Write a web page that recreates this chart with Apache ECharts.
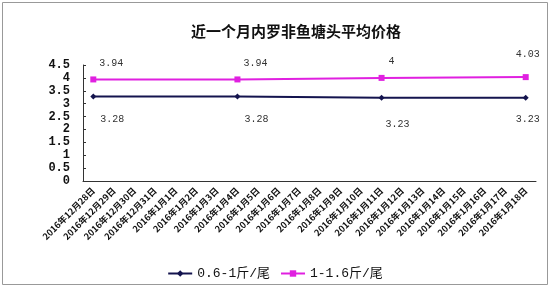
<!DOCTYPE html>
<html><head><meta charset="utf-8">
<script src="https://cdn.jsdelivr.net/npm/echarts@6/dist/echarts.min.js"></script>
<style>html,body{margin:0;padding:0;background:#fff}#c{width:550px;height:288px}</style>
</head><body><div id="c"></div>
<script>
const categories = ['2016年12月28日','2016年12月29日','2016年12月30日','2016年12月31日',
'2016年1月1日','2016年1月2日','2016年1月3日','2016年1月4日','2016年1月5日','2016年1月6日',
'2016年1月7日','2016年1月8日','2016年1月9日','2016年1月10日','2016年1月11日','2016年1月12日',
'2016年1月13日','2016年1月14日','2016年1月15日','2016年1月16日','2016年1月17日','2016年1月18日'];
const seriesSmall = [3.28,null,null,null,null,null,null,3.28,null,null,null,null,null,null,3.23,null,null,null,null,null,null,3.23];
const seriesLarge = [3.94,null,null,null,null,null,null,3.94,null,null,null,null,null,null,4,null,null,null,null,null,null,4.03];
const seriesNames = ['0.6-1斤/尾','1-1.6斤/尾'];
const yTicks = {min:0, max:4.5, interval:0.5};

const smallOffsets = {0:[19,10],7:[19,10],14:[16,14],21:[2,9]};
const largeOffsets = {0:[18,-3],7:[18,-3],14:[10,-4],21:[2,-10]};
function build(arr, offs){
  return arr.map((v,i)=> v==null ? null : {value:v, label:{offset:offs[i]}});
}
const chart = echarts.init(document.getElementById('c'));
chart.setOption({
  animation:false,
  backgroundColor:'#fff',
  title:{text:'近一个月内罗非鱼塘头平均价格', left:291, top:19, textAlign:'center',
    textStyle:{fontFamily:'Noto Sans CJK SC', fontWeight:'bold', fontSize:15, color:'#111'}},
  grid:{left:83, right:14, top:65, bottom:107},
  legend:{bottom:3, left:'center', itemWidth:24, itemHeight:8, itemGap:10,
    textStyle:{fontFamily:'Liberation Mono, Noto Sans CJK SC', fontSize:13, color:'#111'},
    data:seriesNames},
  xAxis:{type:'category', data:categories, boundaryGap:true,
    axisLine:{lineStyle:{color:'#333', width:1}},
    axisTick:{inside:true, length:3, lineStyle:{color:'#333'}},
    axisLabel:{rotate:45, interval:0, fontSize:9, fontWeight:'bold', color:'#111',
      fontFamily:'Noto Sans CJK SC', margin:8}},
  yAxis:{type:'value', min:yTicks.min, max:yTicks.max, interval:yTicks.interval,
    splitLine:{show:false},
    axisLine:{show:true, lineStyle:{color:'#333'}},
    axisTick:{show:true, inside:true, length:3, lineStyle:{color:'#333'}},
    axisLabel:{fontFamily:'Liberation Mono', fontWeight:'bold', fontSize:12, color:'#111', margin:13,
      showMinLabel:true, showMaxLabel:true, hideOverlap:false}},
  graphic:[{type:'rect', shape:{x:2.5,y:2.5,width:545,height:282}, style:{fill:null, stroke:'#999', lineWidth:1}, silent:true}],
  series:[
    {name:seriesNames[0], type:'line', data:build(seriesSmall, smallOffsets), connectNulls:true,
      symbol:'diamond', symbolSize:6, itemStyle:{color:'#14144e'}, lineStyle:{color:'#14144e', width:2},
      label:{show:true, position:'bottom', fontFamily:'Liberation Mono', fontSize:10, color:'#333'}},
    {name:seriesNames[1], type:'line', data:build(seriesLarge, largeOffsets), connectNulls:true,
      symbol:'rect', symbolSize:6, itemStyle:{color:'#e020e0'}, lineStyle:{color:'#e020e0', width:2},
      label:{show:true, position:'top', fontFamily:'Liberation Mono', fontSize:10, color:'#333'}}
  ]
});
</script></body></html>
